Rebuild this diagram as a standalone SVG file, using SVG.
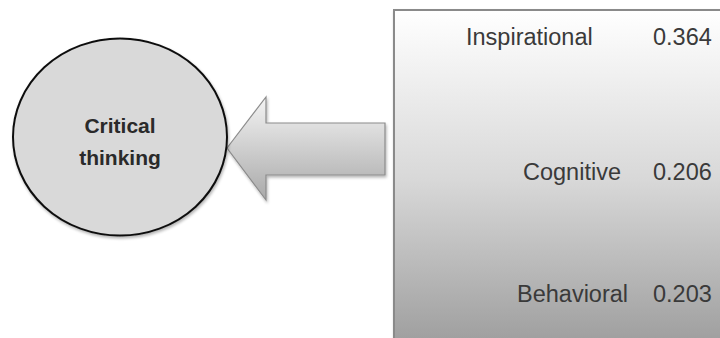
<svg xmlns="http://www.w3.org/2000/svg" width="720" height="338" viewBox="0 0 720 338">
<style>
.lbl{font-family:"Liberation Sans",Arial,sans-serif;font-size:23.5px;fill:#3a3a3a}
.ct{font-family:"Liberation Sans",Arial,sans-serif;font-size:21px;font-weight:bold;fill:#2a2a2a;text-anchor:middle}
</style>
<defs>
<linearGradient id="boxg" x1="0" y1="0" x2="0" y2="1">
<stop offset="0" stop-color="#ffffff"/>
<stop offset="0.5" stop-color="#d8d8d8"/>
<stop offset="1" stop-color="#9c9c9c"/>
</linearGradient>
<linearGradient id="arrg" x1="0" y1="0" x2="0" y2="1">
<stop offset="0" stop-color="#f4f4f4"/>
<stop offset="1" stop-color="#a9a9a9"/>
</linearGradient>
<filter id="sh" x="-10%" y="-10%" width="130%" height="130%">
<feGaussianBlur in="SourceAlpha" stdDeviation="1.5"/>
<feOffset dx="1" dy="2" result="b"/>
<feComponentTransfer><feFuncA type="linear" slope="0.3"/></feComponentTransfer>
<feMerge><feMergeNode/><feMergeNode in="SourceGraphic"/></feMerge>
</filter>
</defs>
<g id="box">
<rect x="394" y="10" width="340" height="340" fill="url(#boxg)" stroke="#8a8a8a" stroke-width="2" filter="url(#sh)"/>
<text class="lbl" x="466" y="45">Inspirational</text>
<text class="lbl" x="653" y="45">0.364</text>
<text class="lbl" x="523" y="180">Cognitive</text>
<text class="lbl" x="653" y="180">0.206</text>
<text class="lbl" x="517" y="302">Behavioral</text>
<text class="lbl" x="653" y="302">0.203</text>
</g>
<g id="connectors">
<path d="M227,148 L266,97 L266,123 L385,123 L385,175 L266,175 L266,200 Z" fill="url(#arrg)" stroke="#8c8c8c" stroke-width="1.2" stroke-linejoin="miter" filter="url(#sh)"/>
</g>
<g id="critical">
<ellipse cx="120" cy="137" rx="107" ry="98.5" fill="#d9d9d9" stroke="#111" stroke-width="2" filter="url(#sh)"/>
<text class="ct" x="120" y="133">Critical</text>
<text class="ct" x="120" y="165">thinking</text>
</g>
</svg>
